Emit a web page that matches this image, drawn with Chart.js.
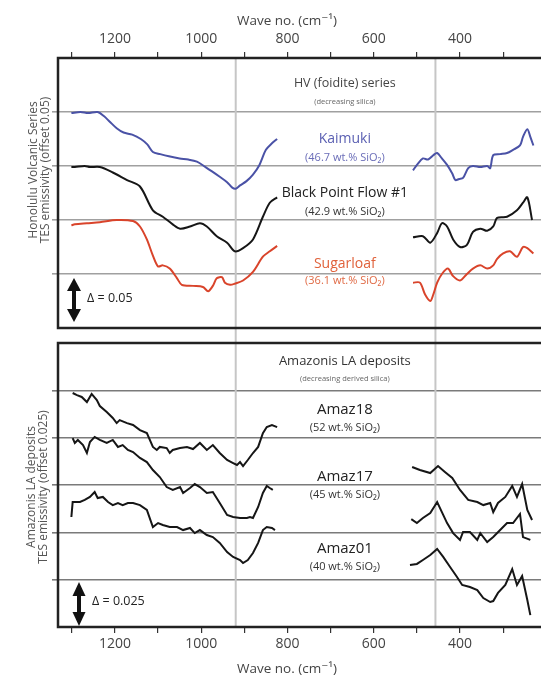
<!DOCTYPE html>
<html>
<head>
<meta charset="utf-8">
<script src="https://cdn.jsdelivr.net/npm/chart.js@4.4.1/dist/chart.umd.min.js"></script>
<style>
    html, body { margin: 0; padding: 0; background: #fff; width: 541px; height: 683px; overflow: hidden; position: relative; }
    canvas { position: absolute; left: 0; }
    #hv-chart { top: 0; }
    #amaz-chart { top: 330px; }
</style>
</head>
<body>
<canvas id="hv-chart" width="548" height="330"></canvas>
<canvas id="amaz-chart" width="548" height="353"></canvas>
<script>
// Wave numbers (cm-1) and offset emissivity.
// "Hi" = 1300-825 cm-1 segment, "Lo" = 508-233 cm-1 segment (CO2 band gap between)

const xTickLabels = [1200, 1000, 800, 600, 400];
const refWaveNos = [920, 457];

// --- Honolulu Volcanic series (offset 0.05) ---
const kaimukiWaveHi = [1301, 1280, 1262, 1240, 1225, 1212, 1196, 1180, 1160, 1140, 1125, 1112, 1095, 1075, 1050, 1030, 1010, 990, 975, 957, 940, 928, 920, 910, 895, 880, 865, 850, 836, 824];
const kaimukiEmisHi = [0.149, 0.150, 0.149, 0.150, 0.146, 0.141, 0.135, 0.131, 0.129, 0.125, 0.120, 0.113, 0.111, 0.109, 0.107, 0.106, 0.104, 0.099, 0.095, 0.090, 0.085, 0.080, 0.079, 0.082, 0.086, 0.092, 0.101, 0.115, 0.121, 0.125];
const kaimukiWaveLo = [509, 498, 486, 474, 462, 453, 442, 430, 418, 411, 402, 393, 381, 370, 353, 337, 330, 323, 307, 291, 277, 261, 254, 244, 237, 230];
const kaimukiEmisLo = [0.096, 0.102, 0.107, 0.106, 0.110, 0.112, 0.107, 0.101, 0.093, 0.087, 0.088, 0.089, 0.098, 0.100, 0.099, 0.100, 0.098, 0.110, 0.111, 0.112, 0.115, 0.119, 0.127, 0.134, 0.127, 0.119];

const blackPointWaveHi = [1301, 1293, 1270, 1258, 1235, 1205, 1172, 1142, 1112, 1089, 1066, 1049, 1026, 1003, 987, 964, 940, 922, 903, 880, 857, 841, 824];
const blackPointEmisHi = [0.099, 0.099, 0.100, 0.099, 0.099, 0.094, 0.087, 0.081, 0.059, 0.053, 0.046, 0.042, 0.044, 0.047, 0.044, 0.035, 0.029, 0.021, 0.024, 0.032, 0.053, 0.066, 0.071];
const blackPointWaveLo = [509, 486, 469, 453, 442, 430, 416, 400, 384, 370, 353, 337, 323, 314, 291, 268, 254, 244, 233];
const blackPointEmisLo = [0.034, 0.035, 0.029, 0.038, 0.047, 0.044, 0.032, 0.025, 0.027, 0.039, 0.042, 0.040, 0.044, 0.052, 0.053, 0.059, 0.066, 0.071, 0.050];

const sugarloafWaveHi = [1301, 1293, 1265, 1235, 1196, 1158, 1142, 1126, 1112, 1100, 1089, 1073, 1056, 1045, 1019, 996, 984, 973, 964, 952, 945, 933, 922, 903, 880, 857, 841, 824];
const sugarloafEmisHi = [0.045, 0.046, 0.047, 0.048, 0.050, 0.049, 0.044, 0.032, 0.017, 0.007, 0.008, 0.005, -0.004, -0.010, -0.011, -0.012, -0.016, -0.011, -0.004, -0.003, -0.008, -0.010, -0.009, -0.006, 0.002, 0.016, 0.021, 0.026];
const sugarloafWaveLo = [509, 493, 481, 469, 462, 453, 442, 428, 416, 400, 384, 370, 353, 337, 323, 314, 300, 284, 268, 254, 244, 230];
const sugarloafEmisLo = [-0.008, -0.008, -0.019, -0.025, -0.019, -0.008, 0.000, 0.005, -0.002, -0.006, 0.000, 0.005, 0.008, 0.005, 0.008, 0.014, 0.019, 0.021, 0.016, 0.025, 0.024, 0.019];

// --- Amazonis LA deposits (offset 0.025) ---
const amaz18WaveHi = [1298, 1288, 1277, 1265, 1254, 1242, 1235, 1219, 1205, 1196, 1189, 1172, 1158, 1142, 1126, 1112, 1103, 1096, 1080, 1073, 1066, 1049, 1033, 1019, 1003, 987, 973, 957, 940, 926, 917, 910, 903, 892, 880, 868, 857, 848, 836, 824];
const amaz18EmisHi = [0.1236, 0.1225, 0.1215, 0.1188, 0.1231, 0.1199, 0.1167, 0.1135, 0.1104, 0.1077, 0.1093, 0.1077, 0.1067, 0.1040, 0.1024, 0.0951, 0.0935, 0.0951, 0.0945, 0.0919, 0.0935, 0.0945, 0.0951, 0.0940, 0.0972, 0.0935, 0.0961, 0.0919, 0.0882, 0.0866, 0.0856, 0.0871, 0.0850, 0.0882, 0.0919, 0.0951, 0.1024, 0.1056, 0.1067, 0.1056];
const amaz18WaveLo = [511, 493, 469, 451, 435, 418, 400, 381, 360, 346, 330, 323, 312, 295, 279, 268, 256, 244, 233];
const amaz18EmisLo = [0.0845, 0.0829, 0.0813, 0.0850, 0.0819, 0.0787, 0.0724, 0.0671, 0.0660, 0.0644, 0.0655, 0.0607, 0.0655, 0.0687, 0.0745, 0.0687, 0.0755, 0.0618, 0.0565];

const amaz17WaveHi = [1298, 1293, 1286, 1274, 1265, 1258, 1247, 1235, 1219, 1205, 1193, 1182, 1170, 1158, 1142, 1126, 1112, 1096, 1080, 1066, 1049, 1042, 1026, 1015, 1003, 987, 973, 957, 940, 926, 910, 894, 887, 880, 868, 857, 848, 841, 834];
const amaz17EmisHi = [0.0998, 0.0972, 0.0988, 0.0961, 0.0919, 0.0977, 0.1004, 0.0988, 0.0972, 0.0988, 0.0951, 0.0961, 0.0935, 0.0924, 0.0893, 0.0871, 0.0829, 0.0792, 0.0739, 0.0724, 0.0739, 0.0708, 0.0734, 0.0755, 0.0739, 0.0708, 0.0713, 0.0655, 0.0592, 0.0581, 0.0576, 0.0576, 0.0581, 0.0576, 0.0634, 0.0708, 0.0745, 0.0734, 0.0724];
const amaz17WaveLo = [513, 500, 486, 469, 453, 442, 430, 416, 400, 393, 377, 360, 353, 337, 323, 307, 291, 277, 261, 254, 237];
const amaz17EmisLo = [0.0570, 0.0549, 0.0576, 0.0602, 0.0660, 0.0607, 0.0549, 0.0496, 0.0460, 0.0502, 0.0502, 0.0460, 0.0496, 0.0449, 0.0475, 0.0512, 0.0549, 0.0549, 0.0597, 0.0475, 0.0460];

const amaz01WaveHi = [1301, 1298, 1293, 1281, 1270, 1258, 1247, 1240, 1228, 1216, 1205, 1193, 1182, 1170, 1158, 1142, 1126, 1112, 1100, 1089, 1073, 1056, 1042, 1026, 1015, 1003, 987, 973, 957, 940, 926, 910, 903, 892, 880, 868, 857, 848, 836, 829];
const amaz01EmisHi = [0.0581, 0.0660, 0.0660, 0.0660, 0.0671, 0.0687, 0.0713, 0.0681, 0.0687, 0.0660, 0.0644, 0.0655, 0.0644, 0.0655, 0.0655, 0.0644, 0.0618, 0.0528, 0.0549, 0.0539, 0.0528, 0.0528, 0.0512, 0.0523, 0.0496, 0.0512, 0.0486, 0.0475, 0.0444, 0.0396, 0.0370, 0.0354, 0.0338, 0.0354, 0.0391, 0.0444, 0.0512, 0.0528, 0.0523, 0.0512];
const amaz01WaveLo = [516, 500, 486, 469, 453, 439, 423, 407, 395, 377, 360, 346, 330, 323, 312, 295, 279, 268, 256, 244, 237];
const amaz01EmisLo = [0.0327, 0.0333, 0.0354, 0.0380, 0.0412, 0.0370, 0.0317, 0.0264, 0.0222, 0.0211, 0.0195, 0.0153, 0.0132, 0.0137, 0.0180, 0.0222, 0.0306, 0.0222, 0.0269, 0.0143, 0.0063];

const FONT = "'Open Sans', 'DejaVu Sans', sans-serif";
Chart.defaults.font.family = FONT;

function points(waves, emis) {
    return waves.map((w, i) => ({ x: w, y: emis[i] }));
}

// join the two spectral segments, with a null point so the CO2 band stays empty
function spectrum(waveHi, emisHi, waveLo, emisLo) {
    return [...points(waveHi, emisHi), { x: 666, y: null }, ...points(waveLo, emisLo)];
}

function line(data, color, tension) {
    return {
        data,
        borderColor: color,
        borderWidth: 2,
        pointRadius: 0,
        tension,
        spanGaps: false,
        fill: false,
    };
}

function drawArrow(ctx, x, y1, y2, half, head) {
    ctx.fillStyle = '#111';
    ctx.strokeStyle = '#111';
    ctx.lineWidth = 4;
    ctx.beginPath();
    ctx.moveTo(x, y1 + head - 2);
    ctx.lineTo(x, y2 - head + 2);
    ctx.stroke();
    ctx.beginPath();
    ctx.moveTo(x, y1);
    ctx.lineTo(x - half, y1 + head);
    ctx.lineTo(x + half, y1 + head);
    ctx.closePath();
    ctx.fill();
    ctx.beginPath();
    ctx.moveTo(x, y2);
    ctx.lineTo(x - half, y2 - head);
    ctx.lineTo(x + half, y2 - head);
    ctx.closePath();
    ctx.fill();
}

const panelDecor = {
    id: 'panelDecor',
    beforeDatasetsDraw(chart, args, o) {
        const { ctx, chartArea: a, scales: { x } } = chart;
        ctx.save();
        ctx.strokeStyle = '#c6c6c6';
        ctx.lineWidth = 2;
        refWaveNos.forEach((w) => {
            const px = x.getPixelForValue(w);
            ctx.beginPath();
            ctx.moveTo(px, o.refFromCanvasTop ? 0 : a.top);
            ctx.lineTo(px, o.refToCanvasBottom ? chart.height : a.bottom);
            ctx.stroke();
        });
        ctx.restore();
    },
    afterDraw(chart, args, o) {
        const { ctx, chartArea: a, scales: { x, y } } = chart;
        ctx.save();

        // frame
        ctx.strokeStyle = '#222';
        ctx.lineWidth = 2.5;
        ctx.strokeRect(a.left, a.top, a.right - a.left, a.bottom - a.top);

        // sample labels, placed in data coordinates
        ctx.textAlign = 'center';
        ctx.textBaseline = 'middle';
        o.labels.forEach((l) => {
            ctx.fillStyle = l.color;
            ctx.font = `${l.size}px ${FONT}`;
            ctx.fillText(l.text, x.getPixelForValue(l.wave), y.getPixelForValue(l.value));
        });

        // offset arrow
        const ar = o.arrow;
        drawArrow(ctx, a.left + ar.dx, a.bottom - ar.top, a.bottom - ar.bottom, ar.half, ar.head);
        ctx.fillStyle = '#222';
        ctx.font = `12.5px ${FONT}`;
        ctx.textAlign = 'left';
        ctx.fillText(ar.text, a.left + ar.textDx, a.bottom - ar.textDy);

        // axis title
        ctx.fillStyle = '#444';
        ctx.font = `13.5px ${FONT}`;
        ctx.textAlign = 'center';
        ctx.fillText('Wave no. (cm\u207B\u00B9)', o.xTitle.x, o.xTitle.y);

        // rotated y titles
        ctx.fillStyle = '#555';
        ctx.font = `12px ${FONT}`;
        o.yTitle.lines.forEach((t, i) => {
            ctx.save();
            ctx.translate(o.yTitle.xs[i], o.yTitle.cy);
            ctx.rotate(-Math.PI / 2);
            ctx.fillText(t, 0, 0);
            ctx.restore();
        });
        ctx.restore();
    }
};

function panelConfig(datasets, opts) {
    return {
        type: 'line',
        data: { datasets },
        plugins: [panelDecor],
        options: {
            responsive: false,
            animation: false,
            events: [],
            layout: { padding: opts.padding },
            plugins: {
                legend: { display: false },
                tooltip: { enabled: false },
                panelDecor: opts.decor,
            },
            scales: {
                x: {
                    type: 'linear',
                    position: opts.xPosition,
                    reverse: true,
                    min: 203,
                    max: 1332,
                    afterFit: (s) => { s.height = opts.xHeight; },
                    ticks: {
                        stepSize: 100,
                        includeBounds: false,
                        autoSkip: false,
                        maxRotation: 0,
                        color: '#444',
                        font: { size: 14 },
                        padding: opts.xTickPadding,
                        callback: (v) => xTickLabels.includes(v) ? String(v) : '',
                    },
                    grid: { drawOnChartArea: false, tickLength: 6, color: '#333', lineWidth: 1.2 },
                    border: { display: false },
                },
                y: {
                    type: 'linear',
                    min: opts.yMin,
                    max: opts.yMax,
                    afterFit: (s) => { s.width = 58; },
                    afterBuildTicks: (s) => {
                        s.ticks = s.ticks.filter((t) => t.value > s.min + 1e-9 && t.value < s.max - 1e-9);
                    },
                    ticks: { display: false, stepSize: opts.yStep },
                    grid: { color: opts.gridColor, lineWidth: 1.6, tickLength: 6 },
                    border: { display: false },
                },
            },
        },
    };
}

const blue = '#4a52a6';
const red = '#d9442b';
const black = '#161616';

new Chart(document.getElementById('hv-chart'), panelConfig([
    line(spectrum(kaimukiWaveHi, kaimukiEmisHi, kaimukiWaveLo, kaimukiEmisLo), blue, 0.3),
    line(spectrum(blackPointWaveHi, blackPointEmisHi, blackPointWaveLo, blackPointEmisLo), black, 0.3),
    line(spectrum(sugarloafWaveHi, sugarloafEmisHi, sugarloafWaveLo, sugarloafEmisLo), red, 0.3),
], {
    padding: { top: 0, right: 3, bottom: 2, left: 0 },
    xPosition: 'top',
    xHeight: 58,
    xTickPadding: 5,
    yMin: -0.05, yMax: 0.2, yStep: 0.05,
    gridColor: '#a0a0a0',
    decor: {
        refFromCanvasTop: false,
        refToCanvasBottom: true,
        labels: [
            { text: 'HV (foidite) series', wave: 667, value: 0.176, size: 12.5, color: '#444' },
            { text: '(decreasing silica)', wave: 667, value: 0.159, size: 7.5, color: '#666' },
            { text: 'Kaimuki', wave: 667, value: 0.125, size: 14, color: '#5a5fb2' },
            { text: '(46.7 wt.% SiO\u2082)', wave: 667, value: 0.108, size: 11, color: '#6a6db8' },
            { text: 'Black Point Flow #1', wave: 667, value: 0.075, size: 14, color: '#222' },
            { text: '(42.9 wt.% SiO\u2082)', wave: 667, value: 0.058, size: 11, color: '#333' },
            { text: 'Sugarloaf', wave: 667, value: 0.009, size: 14, color: '#e0613a' },
            { text: '(36.1 wt.% SiO\u2082)', wave: 667, value: -0.0065, size: 11, color: '#e06a45' },
        ],
        arrow: { dx: 16, top: 50, bottom: 6, half: 7, head: 13, text: '\u0394 = 0.05', textDx: 29, textDy: 30 },
        xTitle: { x: 287, y: 21 },
        yTitle: { lines: ['Honolulu Volcanic Series', 'TES emissivity (offset 0.05)'], xs: [34, 46], cy: 170 },
    },
}));

new Chart(document.getElementById('amaz-chart'), panelConfig([
    line(spectrum(amaz18WaveHi, amaz18EmisHi, amaz18WaveLo, amaz18EmisLo), black, 0),
    line(spectrum(amaz17WaveHi, amaz17EmisHi, amaz17WaveLo, amaz17EmisLo), black, 0),
    line(spectrum(amaz01WaveHi, amaz01EmisHi, amaz01WaveLo, amaz01EmisLo), black, 0),
], {
    padding: { top: 13, right: 3, bottom: 0, left: 0 },
    xPosition: 'bottom',
    xHeight: 56,
    xTickPadding: 3,
    yMin: 0, yMax: 0.15, yStep: 0.025,
    gridColor: '#7a7a7a',
    decor: {
        refFromCanvasTop: true,
        refToCanvasBottom: false,
        labels: [
            { text: 'Amazonis LA deposits', wave: 667, value: 0.1405, size: 13, color: '#333' },
            { text: '(decreasing derived silica)', wave: 667, value: 0.131, size: 7.5, color: '#666' },
            { text: 'Amaz18', wave: 667, value: 0.1146, size: 15, color: '#222' },
            { text: '(52 wt.% SiO\u2082)', wave: 667, value: 0.1051, size: 11, color: '#333' },
            { text: 'Amaz17', wave: 667, value: 0.0792, size: 15, color: '#222' },
            { text: '(45 wt.% SiO\u2082)', wave: 667, value: 0.0697, size: 11, color: '#333' },
            { text: 'Amaz01', wave: 667, value: 0.0412, size: 15, color: '#222' },
            { text: '(40 wt.% SiO\u2082)', wave: 667, value: 0.0317, size: 11, color: '#333' },
        ],
        arrow: { dx: 21, top: 45, bottom: 1, half: 6.5, head: 14, text: '\u0394 = 0.025', textDx: 34, textDy: 26 },
        xTitle: { x: 287, y: 339 },
        yTitle: { lines: ['Amazonis LA deposits', 'TES emissivity (offset 0.025)'], xs: [32, 44], cy: 157 },
    },
}));
</script>
</body>
</html>
